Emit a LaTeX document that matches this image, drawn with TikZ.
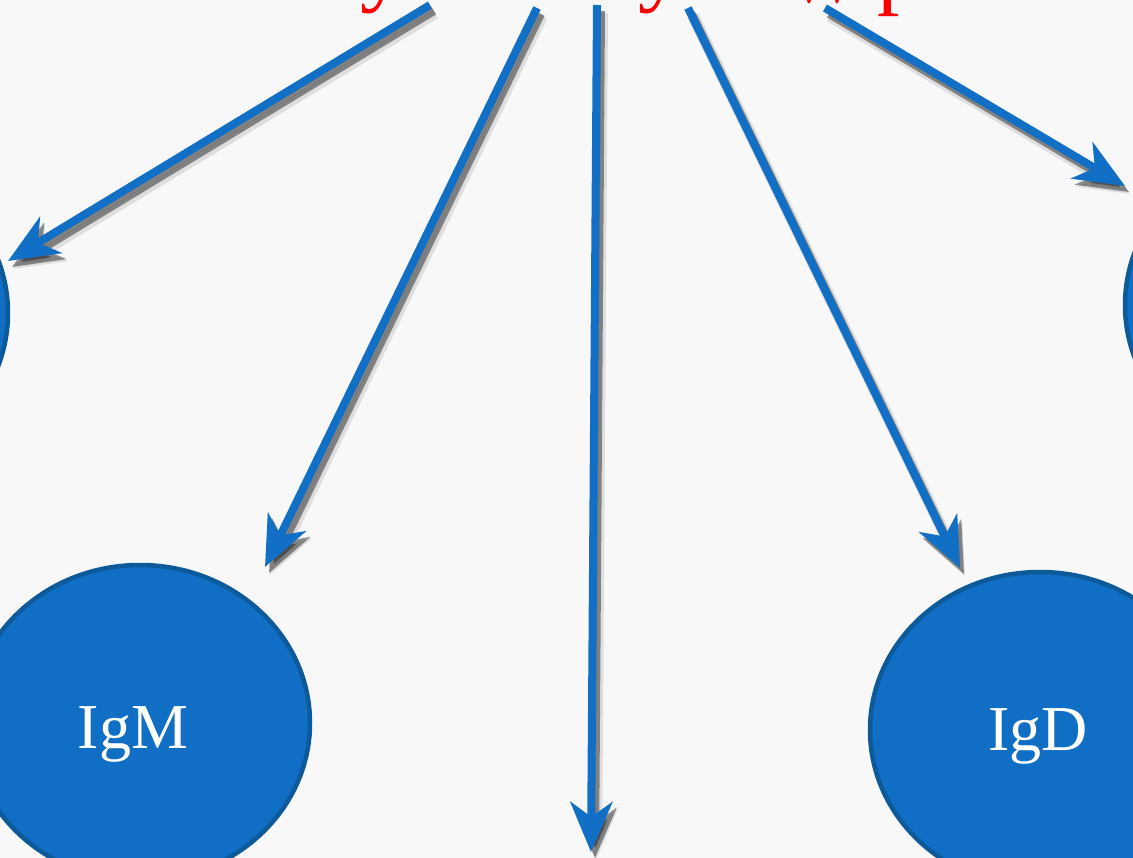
\documentclass[tikz,border=0pt]{standalone}
\usepackage{fontspec}
\setmainfont{Liberation Serif}
\usetikzlibrary{arrows.meta,shapes.geometric}
\definecolor{arrowblue}{HTML}{1170C6}
\definecolor{fillblue}{HTML}{106EC4}
\definecolor{edgeblue}{HTML}{0D5A9A}
\definecolor{bgcol}{HTML}{F8F8F8}
\definecolor{titlered}{HTML}{FF0000}
\begin{document}
\begin{tikzpicture}[x=1pt,y=-1pt,
  tipstyle/.style={-{Stealth[length=50pt,width=42pt,inset=15pt]}},
  conn/.style={line width=8pt, draw=arrowblue, tipstyle},
  shad/.style={line width=8pt, draw=black!85, fill=black!85, tipstyle},
  blob/.style={ellipse, draw=edgeblue, fill=fillblue, line width=4.5pt, minimum width=340pt, minimum height=316pt, inner sep=0pt},
  lbl/.style={text=white, font=\fontsize{64}{70}\selectfont, anchor=base},
  frag/.style={text=titlered, font=\fontsize{90}{95}\selectfont, anchor=base west, inner sep=0pt}]
\fill[bgcol] (0,0) rectangle (1133,858);
\useasboundingbox (0,0) rectangle (1133,858);
\clip (0,0) rectangle (1133,858);

% title fragments (bottom of a cut-off red title)
\node[frag] (t1) at (360,-5) {y};
\node[frag] (t2) at (638,-5) {y};
\node[frag, font=\fontsize{76}{80}\selectfont] (t3) at (787,3) {W};
\node[frag] (t4) at (877,-2) {p};

% ellipses
\node[blob] (cl) at (-162,313) {};
\node[blob] (cr) at (1295,305) {};
\node[blob] (igm) at (140,723) {};
\node[blob] (igd) at (1040,730) {};
\node[lbl] (igmt) at (133,748) {IgM};
\node[lbl] (igdt) at (1038,750) {IgD};

% arrow end points
\coordinate (s1) at (430,5);
\coordinate (s2) at (537,8);
\coordinate (s3) at (597,5);
\coordinate (s4) at (688,8);
\coordinate (s5) at (825,8);
\coordinate (e1) at (8,261);
\coordinate (e2) at (265,567);
\coordinate (e3) at (591,852);
\coordinate (e4) at (960,568);
\coordinate (e5) at (1125,186);

% shadows
\foreach \a/\b in {s1/e1,s2/e2,s3/e3,s4/e4,s5/e5}{
  \draw[shad, draw opacity=0.12, fill opacity=0.12, line width=12pt] ([shift={(5,8)}]\a) -- ([shift={(5,8)}]\b);
  \draw[shad, draw opacity=0.5, fill opacity=0.5] ([shift={(4,6)}]\a) -- ([shift={(4,6)}]\b);
}

% arrows
\draw[conn] (s1) -- (e1);
\draw[conn] (s2) -- (e2);
\draw[conn] (s3) -- (e3);
\draw[conn] (s4) -- (e4);
\draw[conn] (s5) -- (e5);
\end{tikzpicture}
\end{document}
